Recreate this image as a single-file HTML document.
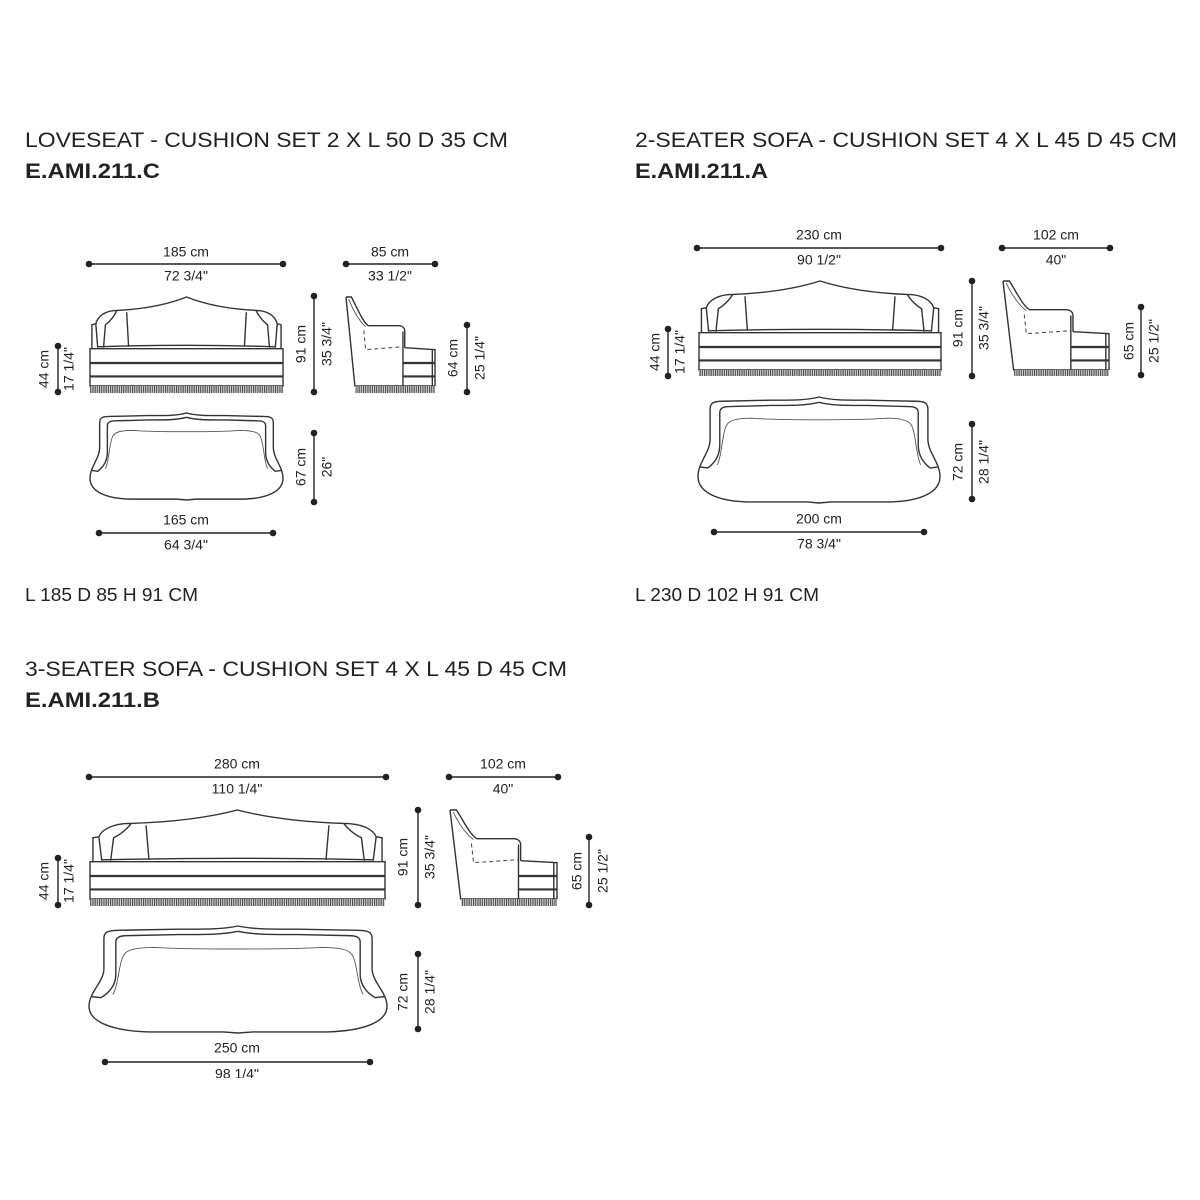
<!DOCTYPE html>
<html><head><meta charset="utf-8"><style>
html,body{margin:0;padding:0;background:#fff;}
svg{display:block;}
text{font-family:"Liberation Sans",sans-serif;fill:#222;}
.t{font-size:21px;}
.b{font-size:21px;font-weight:bold;}
.s{font-size:18px;}
.d{font-size:14px;text-anchor:middle;dominant-baseline:middle;}
.ln{stroke:#222;stroke-width:1.4;fill:none;}
.o{stroke:#333;stroke-width:1.4;fill:none;vector-effect:non-scaling-stroke;}
.o2{stroke:#333;stroke-width:2.2;fill:none;vector-effect:non-scaling-stroke;}
.th{stroke:#555;stroke-width:0.9;fill:none;vector-effect:non-scaling-stroke;}
.ds{stroke:#444;stroke-width:1;fill:none;stroke-dasharray:4 3;vector-effect:non-scaling-stroke;}
</style></head><body>
<svg width="1200" height="1200" viewBox="0 0 1200 1200" xmlns="http://www.w3.org/2000/svg">
<defs>
<pattern id="fr" patternUnits="userSpaceOnUse" width="2.2" height="10">
<rect width="2.2" height="10" fill="#ddd"/><rect width="1.1" height="10" fill="#444"/>
</pattern>
<symbol id="front" viewBox="0 0 100 93" preserveAspectRatio="none" overflow="visible">
<path class="o" d="M14,14 Q35,12 50,0 Q65,12 86,14"/>
<path class="o" d="M14,14 C8,14 4,20 3,28 L1,29 L1,54 M3,28 L4,53 M14,14 C12,22 10,26 8,29 L7,53 M19,16 L20,52"/>
<path class="o" d="M86,14 C92,14 96,20 97,28 L99,29 L99,54 M97,28 L96,53 M86,14 C88,22 90,26 92,29 L93,53 M81,16 L80,52"/>
<path class="o" d="M4,52 Q50,49 96,52"/>
<rect class="o" x="0" y="54" width="100" height="39"/>
<path class="o2" d="M0,69 L100,69 M0,83 L100,83"/>
</symbol>
<symbol id="side" viewBox="0 0 100 93" preserveAspectRatio="none" overflow="visible">
<path class="o" d="M0,0 L10,93 L100,93 M0,0 L6,0 C12,10 18,25 25,30 L59,30 C63,30 66,32 66,36 L66,53 M64,36 L64,93"/>
<path class="th" d="M3,2 C8,14 14,24 22,31"/>
<path class="ds" d="M20,35 L22,55 L64,52"/>
<path class="o" d="M66,53 L100,55 L100,93 M97,55 L97,93"/>
<path class="o2" d="M64,69 L100,69 M64,83 L100,83"/>
</symbol>
<symbol id="plan" viewBox="0 0 100 100" preserveAspectRatio="none" overflow="visible">
<path class="o" d="M50,0 C45,3 40,3 30,3 L10,4 C6,4 5,6 5,12 L5,40 C5,52 0,62 0,75 C0,90 8,98 20,99 L45,99 L50,100 L55,99 L80,99 C92,98 100,90 100,75 C100,62 95,52 95,40 L95,12 C95,6 94,4 90,4 L70,3 C60,3 55,3 50,0 Z"/>
<path class="o" d="M50,5 C45,8 40,8 30,8 L13,9 C10,9 9,11 9,15 L9,45 C9,55 7,62 4,67 L1,66 M50,5 C55,8 60,8 70,8 L87,9 C90,9 91,11 91,15 L91,45 C91,55 93,62 96,67 L99,66"/>
<path class="th" d="M8,64 C10,55 10,32 12,26 C13,22 16,20 22,20 C35,22 65,22 78,20 C84,20 87,22 88,26 C90,32 90,55 92,64"/>
</symbol>
</defs>

<!-- Titles -->
<text class="t" x="25" y="147" textLength="483" lengthAdjust="spacingAndGlyphs">LOVESEAT - CUSHION SET 2 X L 50 D 35 CM</text>
<text class="b" x="25" y="178" textLength="135" lengthAdjust="spacingAndGlyphs">E.AMI.211.C</text>
<text class="t" x="635" y="147" textLength="542" lengthAdjust="spacingAndGlyphs">2-SEATER SOFA - CUSHION SET 4 X L 45 D 45 CM</text>
<text class="b" x="635" y="178" textLength="133" lengthAdjust="spacingAndGlyphs">E.AMI.211.A</text>
<text class="s" x="25" y="601" textLength="173" lengthAdjust="spacingAndGlyphs">L 185 D 85 H 91 CM</text>
<text class="s" x="635" y="601" textLength="184" lengthAdjust="spacingAndGlyphs">L 230 D 102 H 91 CM</text>
<text class="t" x="25" y="676" textLength="542" lengthAdjust="spacingAndGlyphs">3-SEATER SOFA - CUSHION SET 4 X L 45 D 45 CM</text>
<text class="b" x="25" y="707" textLength="135" lengthAdjust="spacingAndGlyphs">E.AMI.211.B</text>

<!-- LOVESEAT -->
<use href="#front" x="90" y="297" width="193" height="89"/>
<rect x="90" y="386" width="193" height="7" fill="url(#fr)"/>
<use href="#side" x="346" y="297" width="89" height="89"/>
<rect x="355" y="386" width="80" height="7" fill="url(#fr)"/>
<use href="#plan" x="90" y="413" width="193" height="87"/>
<g class="ln">
<path d="M89,264 H283 M346,264 H435 M314,296 V392 M58,346 V392 M467,325 V392 M314,433 V502 M99,533 H273"/>
</g>
<g fill="#222">
<circle cx="89" cy="264" r="3.3"/><circle cx="283" cy="264" r="3.3"/>
<circle cx="346" cy="264" r="3.3"/><circle cx="435" cy="264" r="3.3"/>
<circle cx="314" cy="296" r="3.3"/><circle cx="314" cy="392" r="3.3"/>
<circle cx="58" cy="346" r="3.3"/><circle cx="58" cy="392" r="3.3"/>
<circle cx="467" cy="325" r="3.3"/><circle cx="467" cy="392" r="3.3"/>
<circle cx="314" cy="433" r="3.3"/><circle cx="314" cy="502" r="3.3"/>
<circle cx="99" cy="533" r="3.3"/><circle cx="273" cy="533" r="3.3"/>
</g>
<text class="d" x="186" y="253">185 cm</text><text class="d" x="186" y="277">72 3/4"</text>
<text class="d" x="390" y="253">85 cm</text><text class="d" x="390" y="277">33 1/2"</text>
<text class="d" transform="translate(302,344) rotate(-90)">91 cm</text><text class="d" transform="translate(328,344) rotate(-90)">35 3/4"</text>
<text class="d" transform="translate(45,369) rotate(-90)">44 cm</text><text class="d" transform="translate(70,369) rotate(-90)">17 1/4"</text>
<text class="d" transform="translate(454,358) rotate(-90)">64 cm</text><text class="d" transform="translate(481,358) rotate(-90)">25 1/4"</text>
<text class="d" transform="translate(302,467) rotate(-90)">67 cm</text><text class="d" transform="translate(328,467) rotate(-90)">26"</text>
<text class="d" x="186" y="521">165 cm</text><text class="d" x="186" y="546">64 3/4"</text>

<!-- 2-SEATER -->
<use href="#front" x="699" y="281" width="242" height="89"/>
<rect x="699" y="370" width="242" height="6" fill="url(#fr)"/>
<use href="#side" x="1003" y="281" width="106" height="89"/>
<rect x="1014" y="370" width="95" height="6" fill="url(#fr)"/>
<use href="#plan" x="698" y="397" width="242" height="106"/>
<g class="ln">
<path d="M697,248 H941 M1002,248 H1110 M972,281 V376 M668,329 V376 M1141,307 V375 M972,424 V499 M714,532 H924"/>
</g>
<g fill="#222">
<circle cx="697" cy="248" r="3.3"/><circle cx="941" cy="248" r="3.3"/>
<circle cx="1002" cy="248" r="3.3"/><circle cx="1110" cy="248" r="3.3"/>
<circle cx="972" cy="281" r="3.3"/><circle cx="972" cy="376" r="3.3"/>
<circle cx="668" cy="329" r="3.3"/><circle cx="668" cy="376" r="3.3"/>
<circle cx="1141" cy="307" r="3.3"/><circle cx="1141" cy="375" r="3.3"/>
<circle cx="972" cy="424" r="3.3"/><circle cx="972" cy="499" r="3.3"/>
<circle cx="714" cy="532" r="3.3"/><circle cx="924" cy="532" r="3.3"/>
</g>
<text class="d" x="819" y="236">230 cm</text><text class="d" x="819" y="261">90 1/2"</text>
<text class="d" x="1056" y="236">102 cm</text><text class="d" x="1056" y="261">40"</text>
<text class="d" transform="translate(959,328) rotate(-90)">91 cm</text><text class="d" transform="translate(985,328) rotate(-90)">35 3/4"</text>
<text class="d" transform="translate(656,352) rotate(-90)">44 cm</text><text class="d" transform="translate(681,352) rotate(-90)">17 1/4"</text>
<text class="d" transform="translate(1130,341) rotate(-90)">65 cm</text><text class="d" transform="translate(1155,341) rotate(-90)">25 1/2"</text>
<text class="d" transform="translate(959,462) rotate(-90)">72 cm</text><text class="d" transform="translate(985,462) rotate(-90)">28 1/4"</text>
<text class="d" x="819" y="520">200 cm</text><text class="d" x="819" y="545">78 3/4"</text>

<!-- 3-SEATER -->
<use href="#front" x="90" y="810" width="295" height="89"/>
<rect x="90" y="899" width="295" height="7" fill="url(#fr)"/>
<use href="#side" x="450" y="810" width="107" height="89"/>
<rect x="461" y="899" width="96" height="7" fill="url(#fr)"/>
<use href="#plan" x="89" y="926" width="298" height="107"/>
<g class="ln">
<path d="M89,777 H386 M449,777 H558 M418,810 V905 M58,858 V905 M589,837 V905 M418,954 V1029 M105,1062 H370"/>
</g>
<g fill="#222">
<circle cx="89" cy="777" r="3.3"/><circle cx="386" cy="777" r="3.3"/>
<circle cx="449" cy="777" r="3.3"/><circle cx="558" cy="777" r="3.3"/>
<circle cx="418" cy="810" r="3.3"/><circle cx="418" cy="905" r="3.3"/>
<circle cx="58" cy="858" r="3.3"/><circle cx="58" cy="905" r="3.3"/>
<circle cx="589" cy="837" r="3.3"/><circle cx="589" cy="905" r="3.3"/>
<circle cx="418" cy="954" r="3.3"/><circle cx="418" cy="1029" r="3.3"/>
<circle cx="105" cy="1062" r="3.3"/><circle cx="370" cy="1062" r="3.3"/>
</g>
<text class="d" x="237" y="765">280 cm</text><text class="d" x="237" y="790">110 1/4"</text>
<text class="d" x="503" y="765">102 cm</text><text class="d" x="503" y="790">40"</text>
<text class="d" transform="translate(404,857) rotate(-90)">91 cm</text><text class="d" transform="translate(431,857) rotate(-90)">35 3/4"</text>
<text class="d" transform="translate(45,881) rotate(-90)">44 cm</text><text class="d" transform="translate(70,881) rotate(-90)">17 1/4"</text>
<text class="d" transform="translate(578,871) rotate(-90)">65 cm</text><text class="d" transform="translate(604,871) rotate(-90)">25 1/2"</text>
<text class="d" transform="translate(404,992) rotate(-90)">72 cm</text><text class="d" transform="translate(431,992) rotate(-90)">28 1/4"</text>
<text class="d" x="237" y="1049">250 cm</text><text class="d" x="237" y="1075">98 1/4"</text>
<rect x="0" y="1078" width="1200" height="122" fill="#fff"/>
</svg>
</body></html>
